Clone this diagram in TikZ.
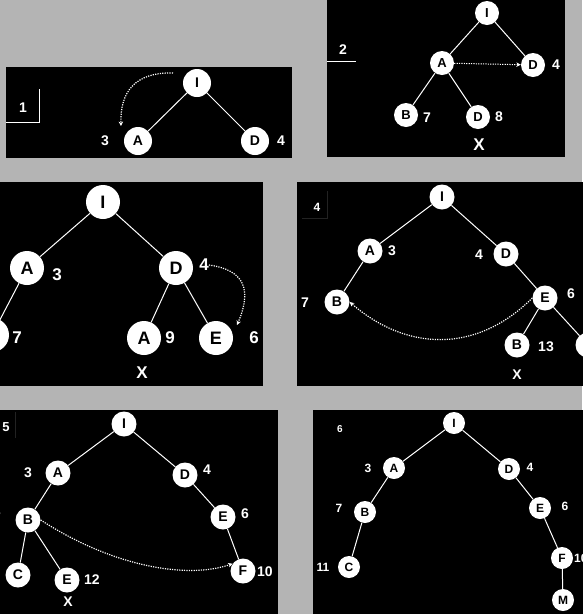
\documentclass[tikz,border=0pt]{standalone}
\usepackage{fontspec}
\setmainfont{Liberation Sans}
\usetikzlibrary{arrows.meta}
\definecolor{bggray}{RGB}{180,180,180}
\definecolor{faintline}{RGB}{34,34,34}
\tikzset{
  br/.style={white, line width=1pt},
  dotarrow/.style={white, line width=1.2pt, dash pattern=on 1.2pt off 1.2pt,
    -{Stealth[length=4.5pt,width=4.5pt]}},
  panel/.style={fill=black},
  tag/.style={white, line width=0.8pt},
  fainttag/.style={faintline, line width=0.8pt},
}
\newcommand{\fsz}[1]{\fontsize{#1}{#1}\selectfont\bfseries}
\begin{document}
\begin{tikzpicture}[x=1pt,y=-1pt]
\fill[bggray] (0,0) rectangle (582,614);
\useasboundingbox (0,0) rectangle (582,614);

% ---------------- Panel 1
\begin{scope}
\fill[panel] (6,67) rectangle (292,158);
\clip (6,67) rectangle (292,158);
\tikzset{nd/.style={circle, fill=white, text=black, inner sep=0pt, minimum size=28pt, font=\fsz{14}},
         lb/.style={text=white, inner sep=0pt, font=\fsz{14}}}
\draw[tag] (39,89) -- (39,122) -- (6,122);
\node[lb] (p1tag) at (23,108) {1};
\node[nd] (p1I) at (197,83) {I};
\node[nd] (p1A) at (138,141) {A};
\node[nd] (p1D) at (255,141) {D};
\node[lb] (p1l3) at (105,141) {3};
\node[lb] (p1l4) at (281,141) {4};
\draw[br] (p1I) -- (p1A);
\draw[br] (p1I) -- (p1D);
\coordinate (p1s) at (173,73);
\coordinate (p1e) at (121,126);
\draw[dotarrow] (p1s) .. controls (135,72) and (120,92) .. (p1e);
\end{scope}

% ---------------- Panel 2
\begin{scope}
\fill[panel] (327,-1) rectangle (565,157);
\clip (327,-1) rectangle (565,157);
\tikzset{nd/.style={circle, fill=white, text=black, inner sep=0pt, minimum size=24pt, font=\fsz{13}},
         lb/.style={text=white, inner sep=0pt, font=\fsz{14}}}
\draw[tag] (327,61) -- (356,61);
\node[lb] (p2tag) at (343,50) {2};
\node[nd] (p2I) at (487,13) {I};
\node[nd] (p2A) at (442,63) {A};
\node[nd] (p2D) at (533,65) {D};
\node[nd] (p2B) at (406,115) {B};
\node[nd] (p2D2) at (478,117) {D};
\node[lb] (p2l4) at (556,65) {4};
\node[lb] (p2l7) at (427,118) {7};
\node[lb] (p2l8) at (499,117) {8};
\node[lb, font=\fsz{17}] (p2X) at (479,145) {X};
\draw[br] (p2I) -- (p2A);
\draw[br] (p2I) -- (p2D);
\draw[br] (p2A) -- (p2B);
\draw[br] (p2A) -- (p2D2);
\draw[dotarrow, line width=1pt] (p2A) -- (p2D);
\end{scope}

% ---------------- Panel 3
\begin{scope}
\fill[panel] (0,182) rectangle (263,386);
\clip (0,182) rectangle (263,386);
\tikzset{nd/.style={circle, fill=white, text=black, inner sep=0pt, minimum size=34pt, font=\fsz{18}},
         lb/.style={text=white, inner sep=0pt, font=\fsz{17}}}
\node[nd] (p3I) at (103,202) {I};
\node[nd] (p3A) at (27,268) {A};
\node[nd] (p3D) at (176,268) {D};
\node[nd] (p3B) at (-8,335) {B};
\node[nd] (p3A2) at (144,338) {A};
\node[nd] (p3E) at (216,338) {E};
\node[lb] (p3l3) at (57,275) {3};
\node[lb] (p3l4) at (204,265) {4};
\node[lb] (p3l7) at (17,338) {7};
\node[lb] (p3l9) at (170,338) {9};
\node[lb] (p3l6) at (254,338) {6};
\node[lb] (p3X) at (142,373) {X};
\draw[br] (p3I) -- (p3A);
\draw[br] (p3I) -- (p3D);
\draw[br] (p3A) -- (p3B);
\draw[br] (p3D) -- (p3A2);
\draw[br] (p3D) -- (p3E);
\coordinate (p3e) at (237,325);
\draw[dotarrow] (p3l4.east) .. controls (245,270) and (252,290) .. (p3e);
\end{scope}

% ---------------- Panel 4
\begin{scope}
\fill[panel] (297,182) rectangle (583,386);
\clip (297,182) rectangle (583,386);
\tikzset{nd/.style={circle, fill=white, text=black, inner sep=0pt, minimum size=25pt, font=\fsz{14}},
         lb/.style={text=white, inner sep=0pt, font=\fsz{14}}}
\draw[fainttag] (302,218) -- (327,218) -- (327,191);
\node[lb, font=\fsz{12}] (p4tag) at (317,207) {4};
\node[nd] (p4I) at (442,197) {I};
\node[nd] (p4A) at (370,251) {A};
\node[nd] (p4D) at (506,254) {D};
\node[nd] (p4B) at (337,302) {B};
\node[nd] (p4E) at (545,298) {E};
\node[nd] (p4B2) at (517,345) {B};
\node[nd] (p4F) at (588,345) {F};
\node[lb] (p4l3) at (392,251) {3};
\node[lb] (p4l4) at (479,255) {4};
\node[lb] (p4l7) at (305,303) {7};
\node[lb] (p4l6) at (571,294) {6};
\node[lb] (p4l13) at (546,347) {13};
\node[lb] (p4X) at (517,375) {X};
\draw[br] (p4I) -- (p4A);
\draw[br] (p4I) -- (p4D);
\draw[br] (p4A) -- (p4B);
\draw[br] (p4D) -- (p4E);
\draw[br] (p4E) -- (p4B2);
\draw[br] (p4E) -- (p4F);
\draw[dotarrow] (p4E.west) .. controls (475,355) and (405,350) .. (p4B.east);
\end{scope}

% ---------------- Panel 5
\begin{scope}
\fill[panel] (0,410) rectangle (278,615);
\clip (0,410) rectangle (278,615);
\tikzset{nd/.style={circle, fill=white, text=black, inner sep=0pt, minimum size=25pt, font=\fsz{14}},
         lb/.style={text=white, inner sep=0pt, font=\fsz{14}}}
\draw[fainttag] (15,412) -- (15,438);
\node[lb, font=\fsz{13}] (p5tag) at (6,427) {5};
\node[nd] (p5I) at (124,424) {I};
\node[nd] (p5A) at (58,473) {A};
\node[nd] (p5D) at (185,475) {D};
\node[nd] (p5B) at (28,520) {B};
\node[nd] (p5E) at (223,517) {E};
\node[nd] (p5C) at (18,575) {C};
\node[nd] (p5E2) at (67,580) {E};
\node[nd] (p5F) at (243,571) {F};
\node[lb] (p5l3) at (28,473) {3};
\node[lb] (p5l4) at (207,470) {4};
\node[lb] (p5l7) at (-3,518) {7};
\node[lb] (p5l6) at (245,514) {6};
\node[lb] (p5l12) at (92,580) {12};
\node[lb] (p5l10) at (265,572) {10};
\node[lb] (p5X) at (68,602) {X};
\draw[br] (p5I) -- (p5A);
\draw[br] (p5I) -- (p5D);
\draw[br] (p5A) -- (p5B);
\draw[br] (p5B) -- (p5C);
\draw[br] (p5B) -- (p5E2);
\draw[br] (p5D) -- (p5E);
\draw[br] (p5E) -- (p5F);
\draw[dotarrow] (p5B.east) .. controls (110,565) and (185,580) .. (p5F.145);
\end{scope}

% ---------------- Panel 6
\begin{scope}
\fill[panel] (313,410) rectangle (583,615);
\clip (313,410) rectangle (583,615);
\tikzset{nd/.style={circle, fill=white, text=black, inner sep=0pt, minimum size=22pt, font=\fsz{12}},
         lb/.style={text=white, inner sep=0pt, font=\fsz{12}}}
\node[lb, font=\fsz{10}] (p6tag) at (340,429) {6};
\node[nd] (p6I) at (454,423) {I};
\node[nd] (p6A) at (394,468) {A};
\node[nd] (p6D) at (509,469) {D};
\node[nd] (p6B) at (365,512) {B};
\node[nd] (p6E) at (540,508) {E};
\node[nd] (p6C) at (349,567) {C};
\node[nd] (p6F) at (562,558) {F};
\node[nd] (p6M) at (563,600) {M};
\node[lb] (p6l3) at (368,468) {3};
\node[lb] (p6l4) at (530,467) {4};
\node[lb] (p6l7) at (339,508) {7};
\node[lb] (p6l6) at (565,506) {6};
\node[lb] (p6l11) at (323,567) {11};
\node[lb, anchor=west] (p6l10) at (574,558) {10};
\draw[br] (p6I) -- (p6A);
\draw[br] (p6I) -- (p6D);
\draw[br] (p6A) -- (p6B);
\draw[br] (p6B) -- (p6C);
\draw[br] (p6D) -- (p6E);
\draw[br] (p6E) -- (p6F);
\draw[br] (p6F) -- (p6M);
\end{scope}
\end{tikzpicture}
\end{document}
